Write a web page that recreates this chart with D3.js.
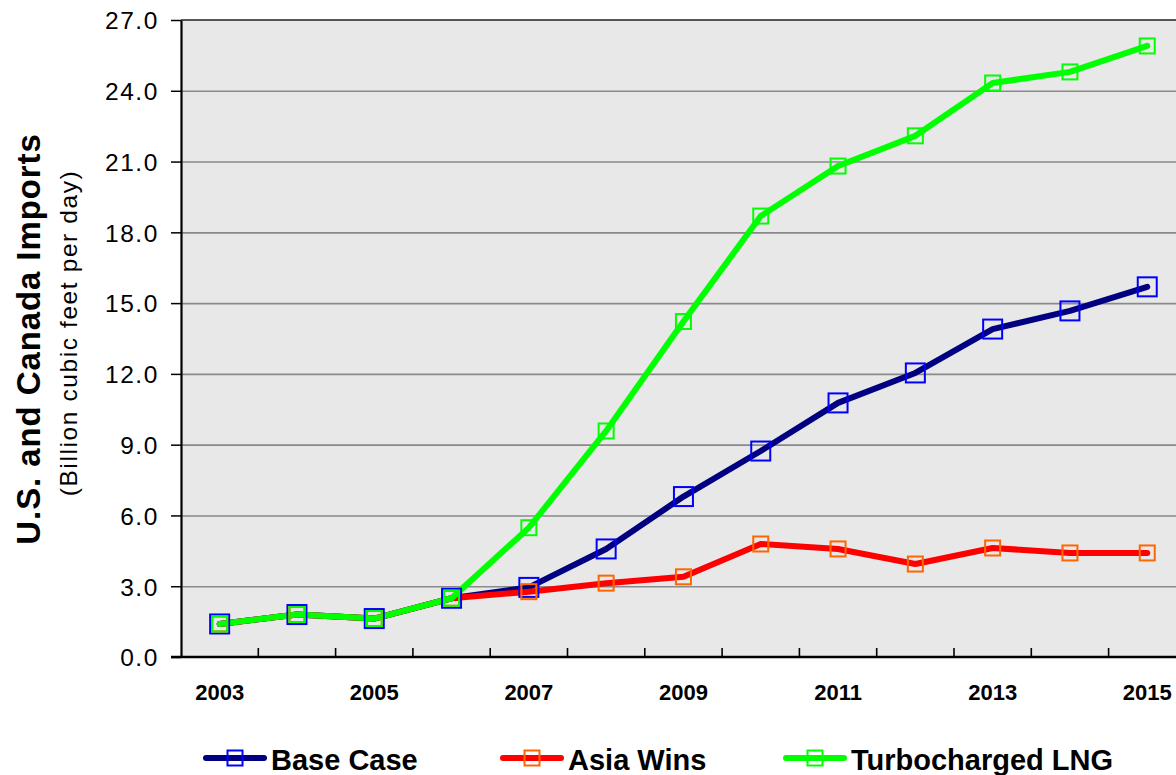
<!DOCTYPE html>
<html>
<head>
<meta charset="utf-8">
<script src="https://cdn.jsdelivr.net/npm/d3@7"></script>
<style>
  html, body { margin: 0; padding: 0; background: #ffffff; overflow: hidden; }
  svg { display: block; font-family: "Liberation Sans", Arial, sans-serif; }
</style>
</head>
<body>
<svg id="chart" width="1176" height="775"></svg>
<script>
// Projected LNG imports, billion cubic feet per day
const years = [2003, 2004, 2005, 2006, 2007, 2008, 2009, 2010, 2011, 2012, 2013, 2014, 2015];
const baseCase   = [1.40, 1.80, 1.63, 2.49, 2.95, 4.58, 6.80, 8.73, 10.77, 12.04, 13.90, 14.67, 15.69];
const asiaWins   = [1.40, 1.80, 1.63, 2.49, 2.77, 3.13, 3.40, 4.79, 4.58, 3.94, 4.62, 4.41, 4.41];
const turboLNG   = [1.40, 1.80, 1.63, 2.49, 5.48, 9.58, 14.22, 18.69, 20.81, 22.09, 24.33, 24.80, 25.90];
const seriesNames = ["Base Case", "Asia Wins", "Turbocharged LNG"];
const yTicks = [0, 3, 6, 9, 12, 15, 18, 21, 24, 27];
const xLabelYears = [2003, 2005, 2007, 2009, 2011, 2013, 2015];

const series = [
  { name: seriesNames[0], values: baseCase, line: "#000080", marker: "#0000ff", size: 19 },
  { name: seriesNames[1], values: asiaWins, line: "#ff0000", marker: "#ff6600", size: 15 },
  { name: seriesNames[2], values: turboLNG, line: "#00ff00", marker: "#00ff00", size: 15 }
];

const svg = d3.select("#chart");
const plotLeft = 181, plotTop = 20, plotBottom = 657;
const step = 77.3;
const plotRight = plotLeft + step * years.length;

const x = d3.scaleBand().domain(years).range([plotLeft, plotRight]).padding(0);
const cx = d => x(d) + x.bandwidth() / 2;
const y = d3.scaleLinear().domain([0, 27]).range([plotBottom, plotTop]);

// plot area
svg.append("rect")
  .attr("x", plotLeft).attr("y", plotTop)
  .attr("width", plotRight - plotLeft).attr("height", plotBottom - plotTop)
  .attr("fill", "#e8e8e8");

// horizontal gridlines
svg.append("g")
  .attr("transform", `translate(${plotLeft},0)`)
  .call(d3.axisLeft(y).tickValues(yTicks.slice(1, -1)).tickSize(-(plotRight - plotLeft)).tickFormat(""))
  .call(g => g.select(".domain").remove())
  .call(g => g.selectAll("line").attr("stroke", "#8a8a8a").attr("stroke-width", 1.6));

// top border of plot area
svg.append("line")
  .attr("x1", plotLeft).attr("x2", plotRight).attr("y1", plotTop).attr("y2", plotTop)
  .attr("stroke", "#222").attr("stroke-width", 1.6);

// y axis
const yAxis = svg.append("g")
  .attr("transform", `translate(${plotLeft},0)`)
  .call(d3.axisLeft(y).tickValues(yTicks).tickSize(10).tickSizeOuter(0).tickPadding(14).tickFormat(d3.format(".1f")));
yAxis.select(".domain").attr("stroke", "#000").attr("stroke-width", 2.2);
yAxis.selectAll(".tick line").attr("stroke", "#000").attr("stroke-width", 1.5);
yAxis.selectAll(".tick text")
  .attr("fill", "#000")
  .attr("font-size", 24.5)
  .attr("letter-spacing", "1.6px")
  .attr("dy", "0.36em")
  .attr("x", -22);

// x axis: year labels on odd years, tick marks between categories pointing into the plot
const xAxis = svg.append("g")
  .attr("transform", `translate(0,${plotBottom})`)
  .call(d3.axisBottom(x).tickValues(xLabelYears).tickSize(0).tickPadding(27));
xAxis.select(".domain").remove();
xAxis.selectAll(".tick text")
  .attr("fill", "#000")
  .attr("font-size", 22)
  .attr("font-weight", "bold");

svg.append("g").selectAll("line")
  .data(years.slice(1))
  .join("line")
  .attr("x1", d => x(d)).attr("x2", d => x(d))
  .attr("y1", plotBottom).attr("y2", plotBottom - 9)
  .attr("stroke", "#000").attr("stroke-width", 1.6);

svg.append("line")
  .attr("x1", plotLeft - 10).attr("x2", plotRight).attr("y1", plotBottom).attr("y2", plotBottom)
  .attr("stroke", "#000").attr("stroke-width", 2.6);

// series lines
const lineGen = d3.line()
  .x((d, i) => cx(years[i]))
  .y(d => y(d));

svg.append("g").selectAll("path")
  .data(series)
  .join("path")
  .attr("d", s => lineGen(s.values))
  .attr("fill", "none")
  .attr("stroke", s => s.line)
  .attr("stroke-width", 6)
  .attr("stroke-linejoin", "round")
  .attr("stroke-linecap", "round");

// square markers on top of lines
series.forEach(s => {
  svg.append("g").selectAll("rect")
    .data(s.values)
    .join("rect")
    .attr("x", (d, i) => cx(years[i]) - s.size / 2)
    .attr("y", d => y(d) - s.size / 2)
    .attr("width", s.size).attr("height", s.size)
    .attr("fill", "none")
    .attr("stroke", s.marker)
    .attr("stroke-width", 2);
});

// y axis title
svg.append("text")
  .attr("transform", "translate(40,339) rotate(-90)")
  .attr("text-anchor", "middle")
  .attr("font-size", 33)
  .attr("font-weight", "bold")
  .attr("letter-spacing", "0.9px")
  .attr("fill", "#000")
  .text("U.S. and Canada Imports");

svg.append("text")
  .attr("transform", "translate(77,333) rotate(-90)")
  .attr("text-anchor", "middle")
  .attr("font-size", 24.5)
  .attr("letter-spacing", "1.6px")
  .attr("fill", "#000")
  .text("(Billion cubic feet per day)");

// legend
const legendX = [206, 503, 786];
const legend = svg.append("g").selectAll("g")
  .data(series)
  .join("g")
  .attr("transform", (s, i) => `translate(${legendX[i]},758)`);
legend.append("line")
  .attr("x1", 0).attr("x2", 58).attr("y1", 0).attr("y2", 0)
  .attr("stroke", s => s.line).attr("stroke-width", 6).attr("stroke-linecap", "round");
legend.append("rect")
  .attr("x", 29 - 7.5).attr("y", -7.5).attr("width", 15).attr("height", 15)
  .attr("fill", "none").attr("stroke", s => s.marker).attr("stroke-width", 2);
legend.append("text")
  .attr("x", 65).attr("y", 12)
  .attr("font-size", 29).attr("font-weight", "bold").attr("fill", "#000")
  .text(s => s.name);
</script>
</body>
</html>
